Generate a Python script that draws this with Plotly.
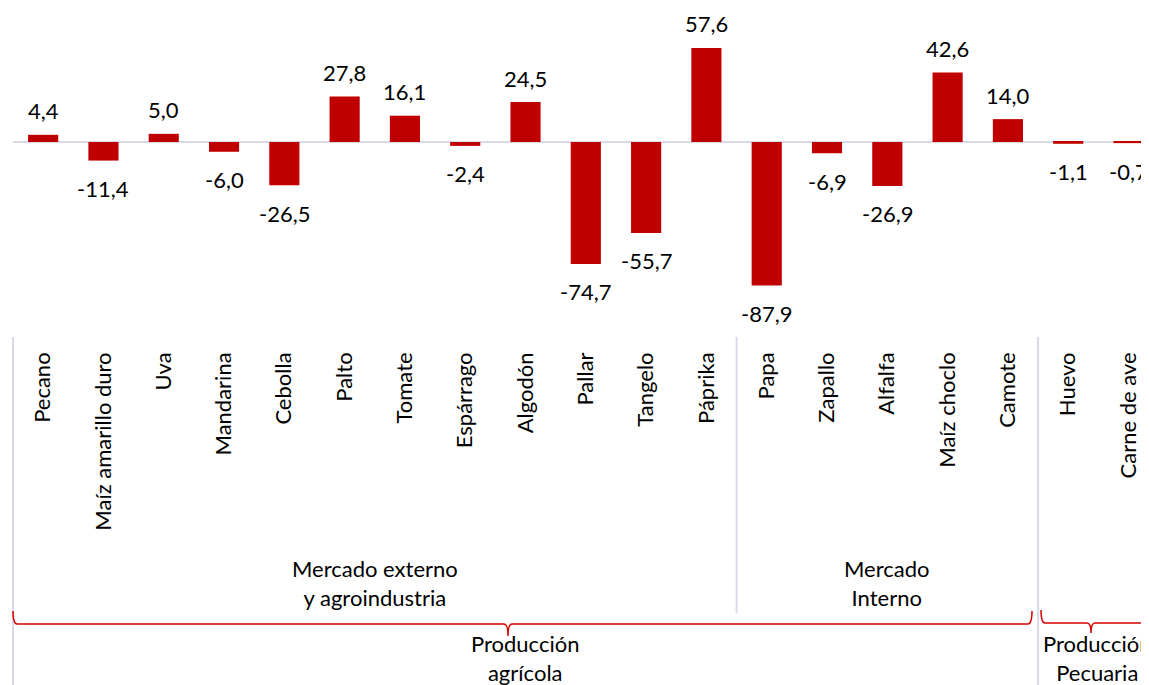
import plotly.graph_objects as go

categories = ["Pecano", "Maíz amarillo duro", "Uva", "Mandarina", "Cebolla", "Palto",
              "Tomate", "Espárrago", "Algodón", "Pallar", "Tangelo", "Páprika",
              "Papa", "Zapallo", "Alfalfa", "Maíz choclo", "Camote",
              "Huevo", "Carne de ave"]
values = [4.4, -11.4, 5.0, -6.0, -26.5, 27.8, 16.1, -2.4, 24.5, -74.7, -55.7, 57.6,
          -87.9, -6.9, -26.9, 42.6, 14.0, -1.1, -0.7]

# groups: (label, first index, last index)
markets = [("Mercado externo<br>y agroindustria", 0, 11), ("Mercado<br>Interno", 12, 16)]
sectors = [("Producción<br>agrícola", 0, 16), ("Producción<br>Pecuaria", 17, 18)]

BAR = "#C00000"
BRACE = "#D60000"
SEP = "#D9D9EA"
FONT = "Lato"
FS = 22

OFF = 8  # page body margin
W, H = 1149 - OFF, 685 - OFF
ML = 13 - OFF
PH = 337 - OFF
MB = H - PH
PW = W - ML
XR = [-0.5, 18.34]
YR = [-119.5, 82.1]


def px_x(idx):
    return (idx - XR[0]) / (XR[1] - XR[0])


def py(pix):
    return (PH - (pix - OFF)) / PH


def pxp(pix):
    return (pix - OFF - ML) / PW


fig = go.Figure()
fig.add_trace(go.Bar(x=list(range(len(categories))), y=values, marker_color=BAR,
                     marker_line_width=0, hoverinfo="skip"))

annotations = []
for i, v in enumerate(values):
    annotations.append(dict(x=i, y=v, xref="x", yref="y", xanchor="center",
                            text=f"{v:.1f}".replace(".", ","), showarrow=False,
                            yanchor="middle", yshift=24 if v >= 0 else -28,
                            font=dict(family=FONT, size=FS, color="#000000")))

# market group labels
for label, a, b in markets:
    annotations.append(dict(x=px_x((a + b) / 2), y=py(583), xref="paper", yref="paper",
                            text=label, showarrow=False, xanchor="center", yanchor="middle",
                            font=dict(family=FONT, size=FS, color="#000000")))

# sector labels
sector_centers = [525, 1097]
for (label, a, b), cx in zip(sectors, sector_centers):
    annotations.append(dict(x=pxp(cx), y=py(658), xref="paper", yref="paper",
                            text=label, showarrow=False, xanchor="center", yanchor="middle",
                            font=dict(family=FONT, size=FS, color="#000000")))

shapes = []
# separators
shapes.append(dict(type="line", xref="paper", yref="paper", x0=px_x(-0.5), x1=px_x(-0.5),
                   y0=0, y1=py(690), line=dict(color=SEP, width=2)))
shapes.append(dict(type="line", xref="paper", yref="paper", x0=px_x(11.5), x1=px_x(11.5),
                   y0=0, y1=py(613), line=dict(color=SEP, width=2)))
shapes.append(dict(type="line", xref="paper", yref="paper", x0=px_x(16.5), x1=px_x(16.5),
                   y0=0, y1=py(690), line=dict(color=SEP, width=2)))


def brace(x0p, x1p, ytop, yh, ytip, xm=None):
    if xm is None:
        xm = (x0p + x1p) / 2
    r = 4
    pts = [
        f"M {pxp(x0p)},{py(ytop)}",
        f"Q {pxp(x0p)},{py(yh)} {pxp(x0p + r)},{py(yh)}",
        f"L {pxp(xm - r)},{py(yh)}",
        f"Q {pxp(xm)},{py(yh)} {pxp(xm)},{py(ytip)}",
        f"Q {pxp(xm)},{py(yh)} {pxp(xm + r)},{py(yh)}",
        f"L {pxp(x1p - r)},{py(yh)}",
        f"Q {pxp(x1p)},{py(yh)} {pxp(x1p)},{py(ytop)}",
    ]
    return dict(type="path", xref="paper", yref="paper", path=" ".join(pts),
                line=dict(color=BRACE, width=1.5))


shapes.append(brace(13, 1032, 611, 624, 636, 508))
shapes.append(brace(1041, 1144, 610, 623, 633, 1091))

fig.update_layout(
    width=W, height=H,
    margin=dict(l=ML, r=0, t=0, b=MB, pad=0),
    paper_bgcolor="white", plot_bgcolor="white",
    showlegend=False, bargap=0.5,
    xaxis=dict(range=XR, tickmode="array", tickvals=list(range(len(categories))),
               ticktext=categories, tickangle=-90, showgrid=False, zeroline=False,
               showline=False, ticks="", ticklabelstandoff=10,
               tickfont=dict(family=FONT, size=FS, color="#000000")),
    yaxis=dict(range=YR, showgrid=False, zeroline=True, zerolinecolor=SEP,
               zerolinewidth=2, showticklabels=False, showline=False, ticks=""),
    annotations=annotations, shapes=shapes,
)

fig.write_html("out.html")
